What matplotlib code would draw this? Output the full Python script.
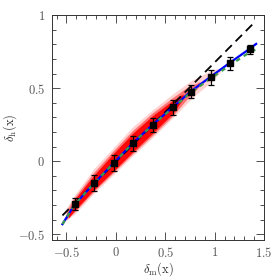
import numpy as np
import matplotlib
matplotlib.use("Agg")
from matplotlib import pyplot as plt
from matplotlib.ticker import MultipleLocator, FuncFormatter

# binned points with error bars
pts_x = [-0.416, -0.223, -0.020, 0.169, 0.372, 0.575, 0.760, 0.963, 1.155, 1.358]
pts_y = [-0.295, -0.151, -0.014, 0.121, 0.247, 0.368, 0.476, 0.573, 0.669, 0.766]
pts_err = [0.042, 0.054, 0.054, 0.050, 0.048, 0.051, 0.046, 0.053, 0.047, 0.030]

# blue fit curve
fit_x = [-0.54, -0.42, -0.22, -0.02, 0.17, 0.37, 0.575, 0.76, 0.96, 1.155, 1.36, 1.42]
fit_y = [-0.432, -0.300, -0.152, -0.012, 0.122, 0.248, 0.368, 0.478, 0.578, 0.674, 0.772, 0.803]

# green dashed curve
alt_x = [-0.54, -0.42, -0.22, -0.02, 0.17, 0.37, 0.575, 0.76, 0.96, 1.155, 1.36, 1.42]
alt_y = [-0.432, -0.300, -0.152, -0.012, 0.122, 0.246, 0.364, 0.470, 0.566, 0.657, 0.748, 0.765]

# black dashed linear line
lin_x = [-0.54, 1.41]
lin_y = [-0.372, 0.955]

# red point cloud: sparse fringe, outer envelope and dense core
fringe_x = [-0.51, -0.42, -0.22, -0.02, 0.17, 0.37, 0.575, 0.76, 0.96, 1.06]
fringe_hi = [-0.33, -0.235, -0.05, 0.095, 0.235, 0.35, 0.46, 0.55, 0.62, 0.64]
fringe_lo = [-0.41, -0.365, -0.22, -0.09, 0.035, 0.16, 0.295, 0.425, 0.54, 0.61]
cloud_x = [-0.50, -0.42, -0.22, -0.02, 0.17, 0.37, 0.575, 0.72, 0.85]
cloud_hi = [-0.34, -0.25, -0.075, 0.075, 0.21, 0.33, 0.435, 0.505, 0.545]
cloud_lo = [-0.40, -0.35, -0.205, -0.075, 0.05, 0.175, 0.31, 0.425, 0.515]
core_x = [-0.48, -0.42, -0.22, -0.02, 0.17, 0.37, 0.575, 0.68]
core_hi = [-0.35, -0.265, -0.095, 0.055, 0.19, 0.31, 0.415, 0.46]
core_lo = [-0.39, -0.34, -0.195, -0.065, 0.062, 0.19, 0.325, 0.425]

plt.rcParams['mathtext.fontset'] = 'cm'
plt.rcParams['font.family'] = 'serif'
plt.rcParams['font.serif'] = ['DejaVu Serif']

fig = plt.figure(figsize=(2.8, 2.8), dpi=100)
ax = fig.add_axes([0.186, 0.143, 0.757, 0.803])

ax.fill_between(fringe_x, fringe_lo, fringe_hi, color='#ff0000', alpha=0.18, lw=0)
ax.fill_between(cloud_x, cloud_lo, cloud_hi, color='#ff0000', alpha=0.45, lw=0)
ax.fill_between(core_x, core_lo, core_hi, color='#ff0000', alpha=0.95, lw=0)

ax.plot(lin_x, lin_y, color='black', lw=1.3, dashes=(5, 3))
ax.plot(fit_x, fit_y, color='#0000ff', lw=1.6)
ax.plot(alt_x, alt_y, color='#3a9a4a', lw=1.6, dashes=(2, 2))
ax.errorbar(pts_x, pts_y, yerr=pts_err, fmt='s', color='black', ms=4.5,
            capsize=2, elinewidth=0.9, capthick=0.9)

ax.set_xlim(-0.645, 1.5)
ax.set_ylim(-0.54, 1.0)
fmt = FuncFormatter(lambda v, p: '$%g$' % round(v, 2))
ax.xaxis.set_major_locator(MultipleLocator(0.5))
ax.xaxis.set_minor_locator(MultipleLocator(0.1))
ax.yaxis.set_major_locator(MultipleLocator(0.5))
ax.yaxis.set_minor_locator(MultipleLocator(0.1))
ax.xaxis.set_major_formatter(fmt)
ax.yaxis.set_major_formatter(fmt)
ax.tick_params(which='both', direction='in', top=True, right=True,
               colors='#333333', labelcolor='#555555', labelsize=9, width=0.6)
ax.tick_params(which='major', length=5.5, pad=5)
ax.tick_params(axis='x', which='major', pad=4)
ax.tick_params(which='minor', length=3)
for s in ax.spines.values():
    s.set_linewidth(0.7)
    s.set_color('#333333')

ax.set_xlabel(r'$\delta_{\rm m}({\rm x})$', fontsize=9, color='#333333', va='center')
ax.set_ylabel(r'$\delta_{\rm h}({\rm x})$', fontsize=9, color='#333333', va='center')
ax.xaxis.set_label_coords(0.5, -0.13)
ax.yaxis.set_label_coords(-0.2, 0.5)

fig.savefig('out.png', dpi=100)
